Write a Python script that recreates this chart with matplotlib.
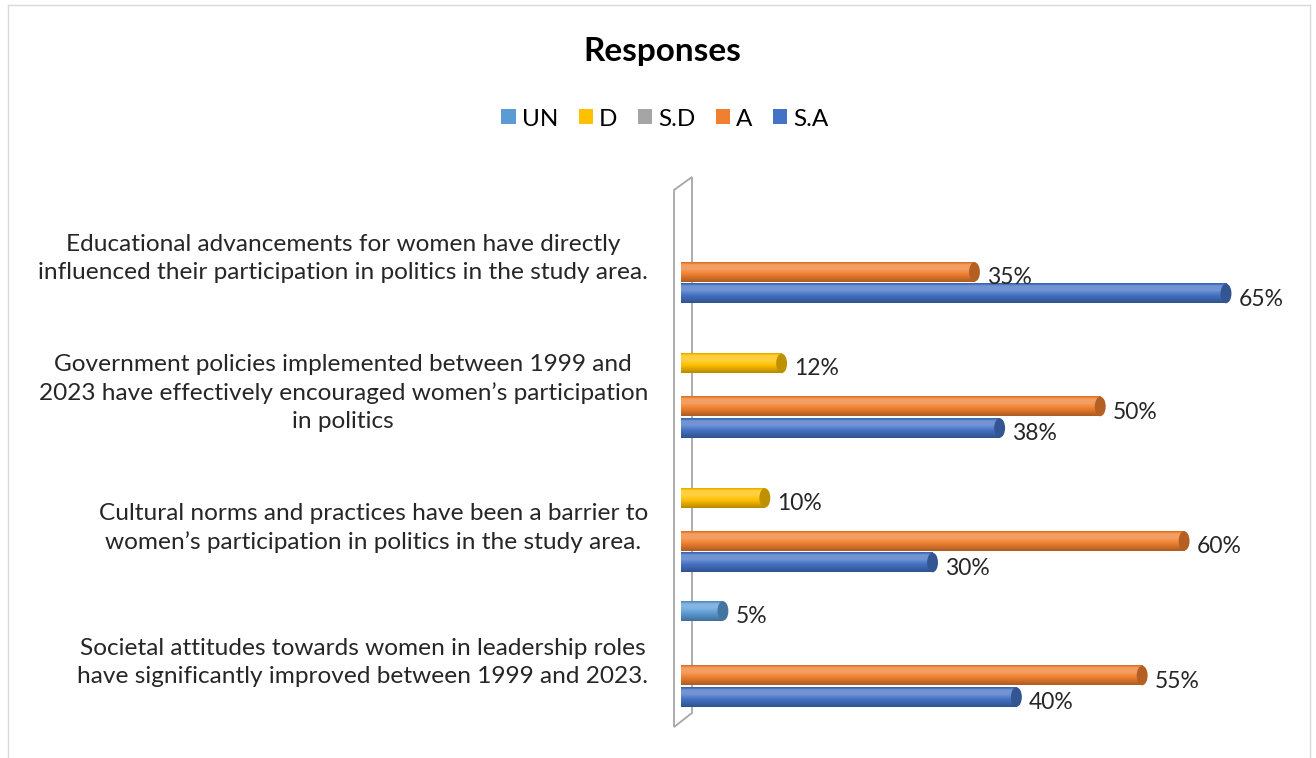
import numpy as np
import matplotlib.pyplot as plt
import matplotlib.colors as mcolors
from matplotlib.patches import Patch, Ellipse, Polygon
from matplotlib.lines import Line2D

plt.rcParams['font.family'] = ['Lato', 'DejaVu Sans']

# categories from bottom to top
categories = [
    "Societal attitudes towards women in leadership roles\nhave significantly improved between 1999 and 2023.",
    "Cultural norms and practices have been a barrier to\nwomen\u2019s participation in politics in the study area.",
    "Government policies implemented between 1999 and\n2023 have effectively encouraged women\u2019s participation\nin politics",
    "Educational advancements for women have directly\ninfluenced their participation in politics in the study area.",
]
series = ["S.A", "A", "S.D", "D", "UN"]  # bottom to top within each cluster
sa = [40, 30, 38, 65]
a = [55, 60, 50, 35]
sd = [0, 0, 0, 0]
d = [0, 10, 12, 0]
un = [5, 0, 0, 0]
values = [sa, a, sd, d, un]
colors = {"UN": "#5B9BD5", "D": "#FFC000", "S.D": "#A5A5A5", "A": "#F0802F", "S.A": "#4472C4"}
legend_order = ["UN", "D", "S.D", "A", "S.A"]

W, H = 1316, 758
fig = plt.figure(figsize=(W / 100, H / 100), dpi=100)

x0 = 681
px_per_pct = 8.385
ax = fig.add_axes([x0 / W, (H - 730) / H, 75 * px_per_pct / W, 565 / H])
ax.set_zorder(2)
ax.axis("off")

slot = 0.16
bar_h = 0.145
base_off = -0.275


def shade(c, f):
    r, g, b = mcolors.to_rgb(c)
    if f >= 1:
        return tuple(min(1, v + (1 - v) * (f - 1) * 2.5) for v in (r, g, b))
    return (r * f, g * f, b * f)


def cylinder(x_end, yc, color):
    t = np.linspace(0, 1, 40)
    prof = np.interp(t, [0, 0.12, 0.35, 0.6, 1.0], [0.88, 1.1, 1.1, 1.0, 0.72])
    img = np.array([shade(color, f) for f in prof]).reshape(-1, 1, 3)
    ax.imshow(img, extent=[0, x_end, yc - bar_h / 2, yc + bar_h / 2],
              aspect="auto", origin="upper", zorder=3, interpolation="bilinear")
    ax.add_patch(Ellipse((x_end, yc), 1.3, bar_h, facecolor=shade(color, 0.75),
                         edgecolor="none", zorder=4))


ypos = np.arange(len(categories))
for k, name in enumerate(series):
    for i, v in enumerate(values[k]):
        if v <= 0:
            continue
        yc = ypos[i] + base_off + k * slot
        cylinder(v, yc, colors[name])
        ax.annotate(f"{v}%", (v, yc), xytext=(9, -4), textcoords="offset points",
                    ha="left", va="center", fontsize=16.5, color="#262626", zorder=6)

ax.set_xlim(0, 75)
ax.set_ylim(-0.52, 3.68)

# category labels
for i, lab in enumerate(categories):
    ax.annotate(lab, (0, ypos[i]), xytext=(-33 / 1.389, -1.5), textcoords="offset points",
                ha="right", va="center", multialignment="center", fontsize=17.6,
                color="#262626", linespacing=1.4, annotation_clip=False)

# thin 3D wall at the left
wall = [(674, 190), (692, 177), (692, 713), (674, 727)]
fig.add_artist(Polygon([(px / W, 1 - py / H) for px, py in wall], closed=True,
                       transform=fig.transFigure, facecolor="white",
                       edgecolor="#A6A6A6", linewidth=1.3, zorder=1))

# chart border
for xs, ys in [([8, 8], [5, 760]), ([8, 1310], [5, 5]), ([1310, 1310], [5, 760])]:
    fig.add_artist(Line2D([x / W for x in xs], [1 - y / H for y in ys],
                          transform=fig.transFigure, color="#D9D9D9", linewidth=1))

fig.text(662 / W, 1 - 52 / H, "Responses", ha="center", va="center",
         fontsize=24, fontweight="bold", color="black")

handles = [Patch(facecolor=colors[n], label=n) for n in legend_order]
fig.legend(handles=handles, loc="center", bbox_to_anchor=(665 / W, 1 - 119 / H),
           ncol=5, frameon=False, fontsize=17.5, handlelength=0.58, handleheight=0.58,
           handletextpad=0.25, columnspacing=0.85)

fig.savefig("out.png", dpi=100)
